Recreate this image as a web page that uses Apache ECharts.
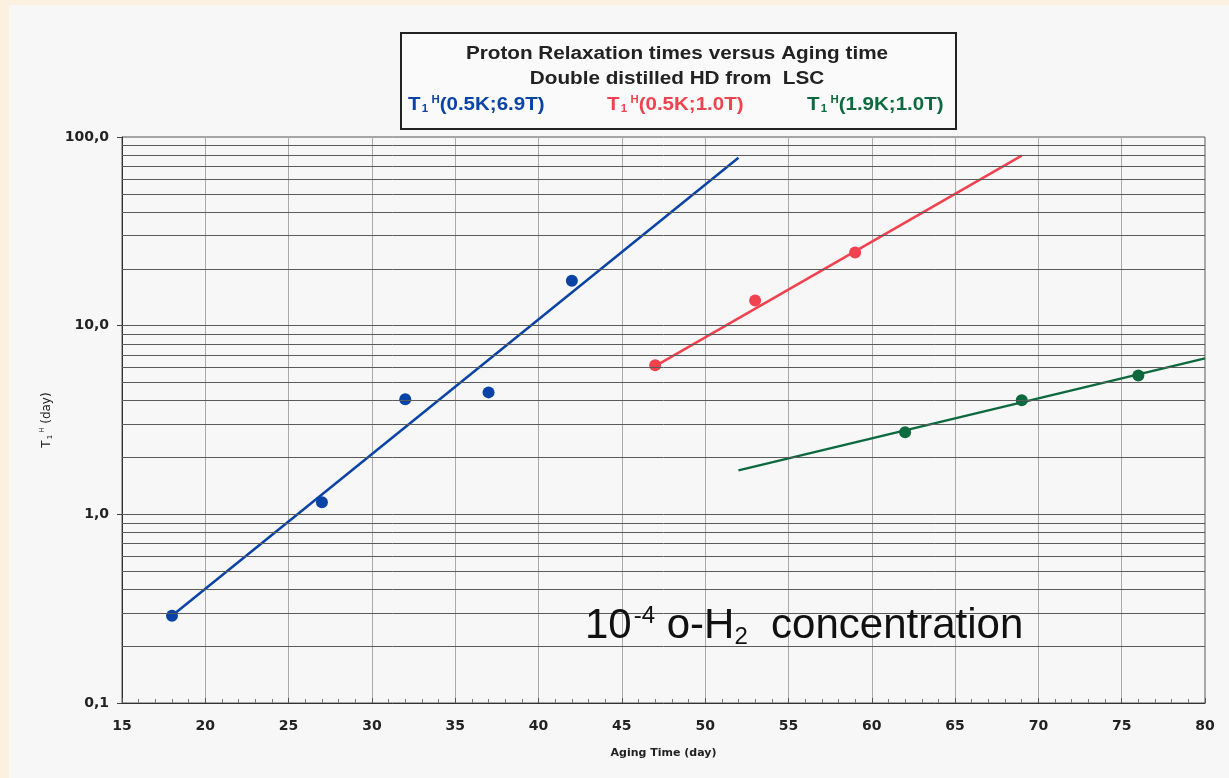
<!DOCTYPE html>
<html>
<head>
<meta charset="utf-8">
<script src="https://cdn.jsdelivr.net/npm/echarts@6/dist/echarts.min.js"></script>
<style>
  html, body { margin: 0; padding: 0; background: #fbf1de; width: 1229px; height: 778px; overflow: hidden; }
  #chart { position: absolute; left: 9px; top: 5px; width: 1220px; height: 773px; }
</style>
</head>
<body>
<div id="chart"></div>
<script>
// ---- data ----
const blueDays = [18, 27, 32, 37, 42];
const blueT1 = [0.29, 1.16, 4.07, 4.43, 17.3];
const blueFitDays = [18, 52];
const blueFitT1 = [0.29, 77.7];

const redDays = [47, 53, 59];
const redT1 = [6.16, 13.6, 24.4];
const redFitDays = [47, 69];
const redFitT1 = [6.1, 79.6];

const greenDays = [62, 69, 76];
const greenT1 = [2.72, 4.02, 5.45];
const greenFitDays = [52, 80];
const greenFitT1 = [1.71, 6.71];

const yMinorGrid = [0.2,0.3,0.4,0.5,0.6,0.7,0.8,0.9, 2,3,4,5,6,7,8,9, 20,30,40,50,60,70,80,90, 1, 10];
const xTickLabels = ['15','20','25','30','35','40','45','50','55','60','65','70','75','80'];

const BLUE = '#0a43a6', RED = '#f0424f', GREEN = '#0d6a3e';
const FONT = '"Liberation Sans", Arial, sans-serif';
const WIDE = '"DejaVu Sans", sans-serif';

function pairs(xs, ys) { return xs.map((x, i) => [x, ys[i]]); }

function legendText(x, label, color) {
  return { type: 'text', x: x, y: 100, z: 11, scaleX: 1.14, originX: 0, originY: 0,
    style: { text: '{t|T}{s|1}{h|H}{t|' + label + '}', fill: color, verticalAlign: 'middle',
      rich: {
        t: { fontFamily: FONT, fontSize: 18, fontWeight: 'bold', fill: color },
        s: { fontFamily: FONT, fontSize: 10, fontWeight: 'bold', fill: color, padding: [9, 3, 0, 1] },
        h: { fontFamily: FONT, fontSize: 10, fontWeight: 'bold', fill: color, padding: [0, 0, 10, 0] }
      } } };
}

const chart = echarts.init(document.getElementById('chart'), null, { renderer: 'canvas' });

const option = {
  backgroundColor: '#f7f7f7',
  animation: false,
  grid: { left: 113, right: 24, top: 132, bottom: 75, show: true, borderColor: '#555', borderWidth: 1, backgroundColor: 'transparent' },
  xAxis: {
    type: 'value', min: 15, max: 80, interval: 5,
    name: 'Aging Time (day)', nameLocation: 'middle', nameGap: 45,
    nameTextStyle: { fontFamily: WIDE, fontSize: 11, fontWeight: 'bold', color: '#222' },
    axisLine: { show: true, lineStyle: { color: '#333', width: 1 } },
    axisTick: { show: true, inside: true, length: 5, lineStyle: { color: '#555' } },
    minorTick: { show: true, splitNumber: 5, length: 4, lineStyle: { color: '#777' } },
    axisLabel: { margin: 16, fontFamily: WIDE, fontSize: 14, fontWeight: 'bold', color: '#222',
      formatter: v => xTickLabels[xTickLabels.indexOf(String(v))] },
    splitLine: { show: true, lineStyle: { color: '#aaa', width: 1 } }
  },
  yAxis: {
    type: 'log', logBase: 10, min: 0.1, max: 100,
    name: '{t|T}{sub|1}{sup|H}{t| (day)}', nameLocation: 'middle', nameGap: 68, nameRotate: 90,
    nameTextStyle: { fontFamily: WIDE, fontSize: 12, color: '#222',
      rich: {
        t: { fontFamily: WIDE, fontSize: 12, color: '#222' },
        sub: { fontFamily: WIDE, fontSize: 7, color: '#222', padding: [7, 2, 0, 1] },
        sup: { fontFamily: WIDE, fontSize: 7, color: '#222', padding: [0, 0, 8, 0] }
      } },
    axisLine: { show: true, lineStyle: { color: '#333', width: 1 } },
    axisTick: { show: true, inside: false, length: 5, lineStyle: { color: '#444' } },
    axisLabel: { margin: 13, fontFamily: WIDE, fontSize: 14, fontWeight: 'bold', color: '#222',
      formatter: v => Number(v).toFixed(1).replace('.', ',') },
    splitLine: { show: false }
  },
  series: [
    {
      name: 'grid', type: 'line', data: [], silent: true,
      markLine: {
        silent: true, symbol: ['none', 'none'], label: { show: false },
        lineStyle: { color: '#5a5a5a', width: 1, type: 'solid' },
        emphasis: { disabled: true },
        data: yMinorGrid.map(v => ({ yAxis: v }))
      }
    },
    { name: 'blueFit', type: 'line', data: pairs(blueFitDays, blueFitT1), showSymbol: false, symbol: 'none',
      lineStyle: { color: BLUE, width: 2.5 }, z: 3 },
    { name: 'redFit', type: 'line', data: pairs(redFitDays, redFitT1), showSymbol: false, symbol: 'none',
      lineStyle: { color: RED, width: 2.5 }, z: 3 },
    { name: 'greenFit', type: 'line', data: pairs(greenFitDays, greenFitT1), showSymbol: false, symbol: 'none',
      lineStyle: { color: GREEN, width: 2.5 }, z: 3 },
    { name: 'blue', type: 'scatter', data: pairs(blueDays, blueT1), symbolSize: 12, itemStyle: { color: BLUE, opacity: 1 }, z: 4 },
    { name: 'red', type: 'scatter', data: pairs(redDays, redT1), symbolSize: 12, itemStyle: { color: RED, opacity: 1 }, z: 4 },
    { name: 'green', type: 'scatter', data: pairs(greenDays, greenT1), symbolSize: 12, itemStyle: { color: GREEN, opacity: 1 }, z: 4 }
  ],
  graphic: [
    { type: 'rect', left: 391, top: 27, shape: { width: 555, height: 96 },
      style: { fill: '#fafafa', stroke: '#222', lineWidth: 2 }, z: 10 },
    { type: 'text', x: 668, y: 49, z: 11, scaleX: 1.15, originX: 0, originY: 0,
      style: { text: 'Proton Relaxation times versus Aging time', fontFamily: FONT, fontSize: 18, fontWeight: 'bold', fill: '#222', align: 'center', verticalAlign: 'middle' } },
    { type: 'text', x: 668, y: 74, z: 11, scaleX: 1.15, originX: 0, originY: 0,
      style: { text: 'Double distilled HD from  LSC', fontFamily: FONT, fontSize: 18, fontWeight: 'bold', fill: '#222', align: 'center', verticalAlign: 'middle' } },
    legendText(399, '(0.5K;6.9T)', BLUE),
    legendText(598, '(0.5K;1.0T)', RED),
    legendText(798, '(1.9K;1.0T)', GREEN),
    { type: 'text', x: 576, y: 621, z: 11,
      style: { text: '{t|10}{sup|-4}{t| o-H}{sub|2}{t|  concentration}', verticalAlign: 'middle', fill: '#111',
        rich: {
          t: { fontFamily: FONT, fontSize: 42, fill: '#111' },
          sup: { fontFamily: FONT, fontSize: 24, fill: '#111', padding: [0, 0, 20, 2] },
          sub: { fontFamily: FONT, fontSize: 24, fill: '#111', padding: [22, 0, 0, 0] }
        } } }
  ]
};

chart.setOption(option);
</script>
</body>
</html>
